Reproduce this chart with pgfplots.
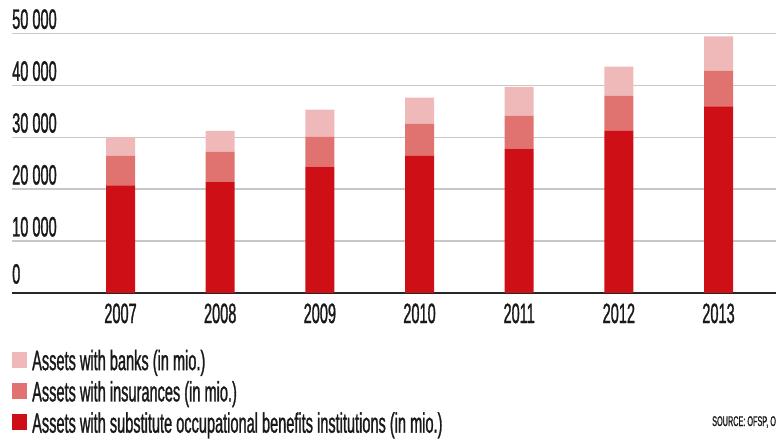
\documentclass[border=0pt]{standalone}
\usepackage{fontspec}
\setmainfont{Liberation Sans}[FakeStretch=0.52, FakeBold=1]
\usepackage{pgfplots}
\usepackage{pgfplotstable}
\pgfplotsset{compat=1.18}
\definecolor{cSub}{RGB}{206,16,22}
\definecolor{cIns}{RGB}{224,115,112}
\definecolor{cBank}{RGB}{240,185,185}
\definecolor{cText}{RGB}{25,25,25}
\definecolor{cGrid}{RGB}{200,200,200}
\pgfplotstableread{
x sub ins banks
0 20700 5700 3600
1 21400 5800 4000
2 24300 5800 5200
3 26400 6200 5000
4 27800 6300 5600
5 31200 6800 5600
6 35900 6900 6600
}\datatable
\newcommand{\bigfont}{\fontsize{28bp}{32bp}\selectfont}
\begin{document}
\begin{tikzpicture}
\path[use as bounding box] (0bp,0bp) rectangle (776bp,439bp);
\begin{axis}[
  at={(12bp,146.2bp)}, anchor=south west,
  scale only axis, width=764bp, height=259.5bp,
  xmin=-1.089, xmax=6.577, ymin=0, ymax=50000,
  enlarge x limits=false, enlarge y limits=false,
  ybar stacked, bar width=29bp,
  axis lines*=left,
  y axis line style={draw=none},
  x axis line style={draw=black!85, line width=1.4bp},
  xtick={0,1,2,3,4,5,6},
  xticklabels={2007,2008,2009,2010,2011,2012,2013},
  ytick={0,10000,20000,30000,40000,50000},
  yticklabels={\raisebox{5bp}{0},10 000,20 000,30 000,40 000,50 000},
  scaled y ticks=false,
  major tick length=0pt,
  ymajorgrids, grid style={draw=cGrid, line width=1.2bp},
  xticklabel style={anchor=north, inner sep=0pt, yshift=-10.5bp, font=\bigfont, text=cText},
  yticklabel style={anchor=south west, inner sep=0pt, yshift=4bp, font=\bigfont, text=cText},
  reverse legend,
  legend style={at={(0,-0.219)}, anchor=north west, draw=none, fill=none,
    inner sep=0pt, font=\bigfont, text=cText, row sep=9.5bp, column sep=5bp,
    nodes={inner sep=0pt}},
  legend cell align=left,
  sq/.style={legend image code/.code={\fill[##1, draw=none] (0bp,-7bp) rectangle (15bp,9bp);}},
]
\addplot[fill=cSub, draw=none, sq] table[x=x, y=sub] {\datatable};
\addlegendentry{Assets with substitute occupational benefits institutions (in mio.)}
\addplot[fill=cIns, draw=none, sq] table[x=x, y=ins] {\datatable};
\addlegendentry{Assets with insurances (in mio.)}
\addplot[fill=cBank, draw=none, sq] table[x=x, y=banks] {\datatable};
\addlegendentry{Assets with banks (in mio.)}
\end{axis}
\node[anchor=base west, inner sep=0pt, font=\fontsize{14bp}{16bp}\selectfont, text=cText] at (712bp,13bp) {SOURCE: OFSP, O};
\end{tikzpicture}
\end{document}
